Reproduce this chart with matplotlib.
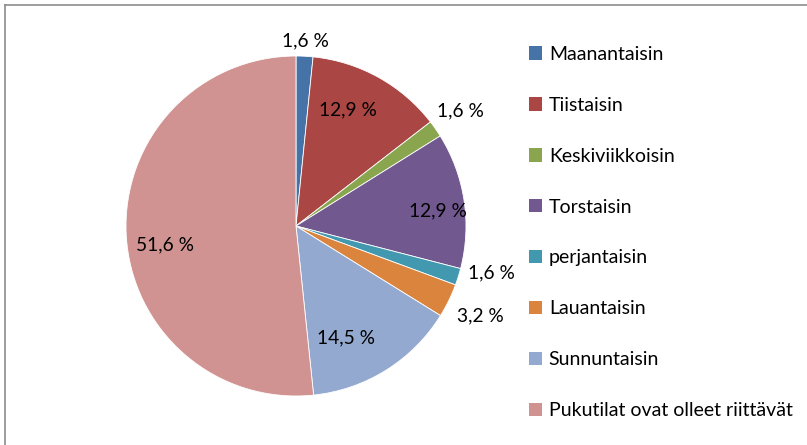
import matplotlib.pyplot as plt
import numpy as np
from matplotlib.lines import Line2D

# data
labels = ["Maanantaisin", "Tiistaisin", "Keskiviikkoisin", "Torstaisin",
          "perjantaisin", "Lauantaisin", "Sunnuntaisin",
          "Pukutilat ovat olleet riittävät"]
percents = [1.6, 12.9, 1.6, 12.9, 1.6, 3.2, 14.5, 51.6]
colors = ["#4572A7", "#AA4643", "#89A54E", "#71588F",
          "#4198AF", "#DB843D", "#93A9CF", "#D19392"]

# data label placement: fraction of radius, and clockwise shift (deg) from slice middle
label_dist = [1.09, 0.75, 1.18, 0.84, 1.18, 1.21, 0.72, 0.78]
label_shift = [0, -5, 0, 2.7, -4, 0, 8, -5]

plt.rcParams['font.family'] = ['Lato', 'DejaVu Sans']

W, H = 807, 445
fig = plt.figure(figsize=(W / 100, H / 100), dpi=100)

# pie centre (296, 226) px, radius 170 px
cx, cy, r = 296, 226, 170
ax = fig.add_axes([(cx - r) / W, (H - cy - r) / H, 2 * r / W, 2 * r / H])

wedges, _ = ax.pie(percents, colors=colors, startangle=90, counterclock=False,
                   radius=1.0, wedgeprops=dict(edgecolor="white", linewidth=0.6))
ax.set_xlim(-1, 1)
ax.set_ylim(-1, 1)
ax.set_aspect("equal")
ax.axis("off")

# data labels
for w, p, d, s in zip(wedges, percents, label_dist, label_shift):
    ang = np.deg2rad((w.theta1 + w.theta2) / 2 - s)
    x, y = d * np.cos(ang), d * np.sin(ang)
    txt = f"{p:.1f} %".replace(".", ",")
    ax.text(x, y, txt, ha="center", va="center", fontsize=13.8, color="black")

# legend
leg = fig.legend(wedges, labels, loc="upper left",
                 bbox_to_anchor=(521 / W, 1 - 38 / H),
                 frameon=False, fontsize=14, handlelength=0.68,
                 handleheight=0.68, handletextpad=0.35, labelspacing=1.745,
                 borderaxespad=0)
for h in leg.legend_handles:
    h.set_edgecolor("none")

# chart area border (only top and left edges visible in the crop)
fig.add_artist(Line2D([4.5 / W, 4.5 / W], [0, 1 - 4.5 / H], transform=fig.transFigure,
                      color="#8c8c8c", linewidth=1.2))
fig.add_artist(Line2D([4.5 / W, 1], [1 - 4.5 / H, 1 - 4.5 / H], transform=fig.transFigure,
                      color="#8c8c8c", linewidth=1.2))

fig.savefig("out.png", dpi=100)
